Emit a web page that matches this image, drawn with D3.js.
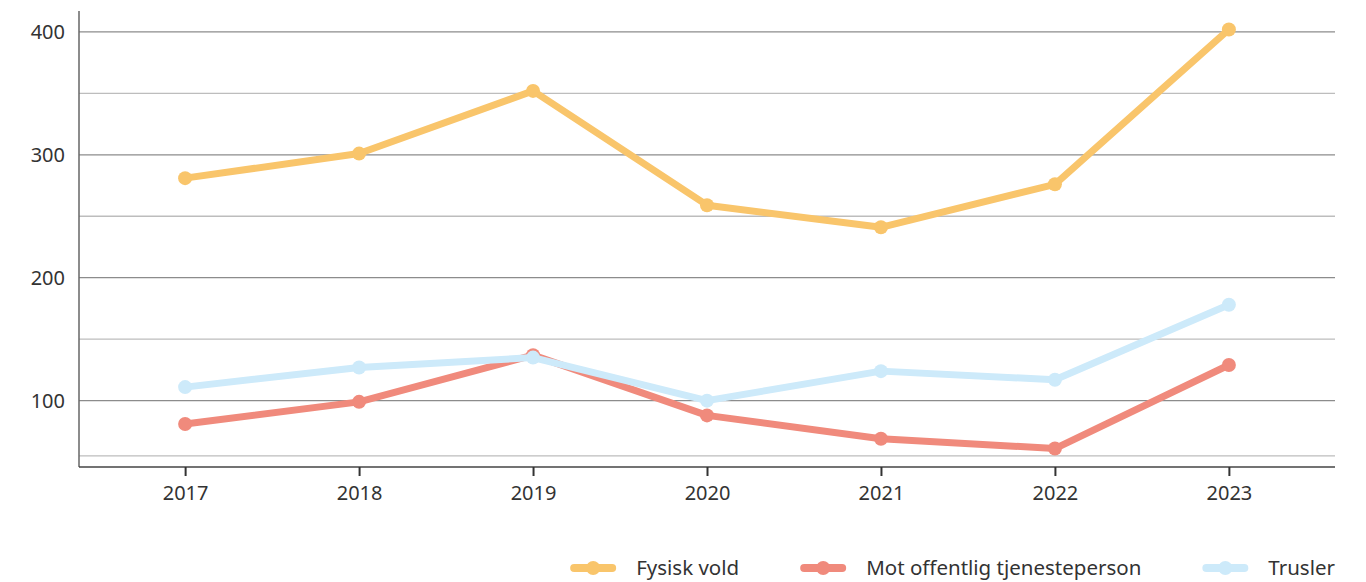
<!DOCTYPE html>
<html>
<head>
<meta charset="utf-8">
<script src="https://cdn.jsdelivr.net/npm/d3@7"></script>
<style>
  body { margin: 0; background: #fff; }
  svg { display: block; font-family: "Noto Sans", sans-serif; }
</style>
</head>
<body>
<svg id="chart" width="1366" height="582"></svg>
<script>
const years = ["2017", "2018", "2019", "2020", "2021", "2022", "2023"];
const fysiskVold = [281, 301, 352, 259, 241, 276, 402];
const motTjenesteperson = [81, 99, 137, 88, 69, 61, 129];
const trusler = [111, 127, 135, 100, 124, 117, 178];

const seriesNames = ["Fysisk vold", "Mot offentlig tjenesteperson", "Trusler"];
const seriesColors = ["#f9c56b", "#f08a7c", "#cdeafa"];
const yTickLabels = [100, 200, 300, 400];
const gridValues = [55, 100, 150, 200, 250, 300, 350, 400];

const series = [fysiskVold, motTjenesteperson, trusler].map((vals, i) => ({
    name: seriesNames[i],
    color: seriesColors[i],
    values: vals.map((v, j) => ({ year: years[j], value: v }))
}));

const svg = d3.select("#chart");
const plotLeft = 79, plotRight = 1335, plotTop = 11, plotBottom = 467;

const x = d3.scalePoint().domain(years).range([plotLeft, plotRight]).padding(0.61);
const y = d3.scaleLinear().domain([46, 417]).range([plotBottom, plotTop]);

// grid
svg.append("g")
    .selectAll("line")
    .data(gridValues)
    .join("line")
    .attr("x1", plotLeft)
    .attr("x2", plotRight)
    .attr("y1", d => y(d))
    .attr("y2", d => y(d))
    .attr("stroke", d => yTickLabels.includes(d) ? "#8c8c8c" : "#bdbdbd")
    .attr("stroke-width", 1.3);

// y axis
const yAxis = svg.append("g")
    .attr("transform", `translate(${plotLeft},0)`)
    .call(d3.axisLeft(y).tickValues(yTickLabels).tickSize(0).tickPadding(14));
yAxis.select(".domain").attr("stroke", "#666").attr("stroke-width", 1.5)
    .attr("d", `M0,${plotTop}V${plotBottom}`);
yAxis.selectAll("text")
    .attr("font-size", 20)
    .attr("fill", "#333")
    .attr("font-family", "Noto Sans, sans-serif");

// x axis
const xAxis = svg.append("g")
    .attr("transform", `translate(0,${plotBottom})`)
    .call(d3.axisBottom(x).tickSize(9).tickPadding(10));
xAxis.select(".domain").attr("stroke", "#444").attr("stroke-width", 1.5)
    .attr("d", `M${plotLeft},0H${plotRight}`);
xAxis.selectAll(".tick line").attr("stroke", "#333").attr("stroke-width", 2);
xAxis.selectAll("text")
    .attr("font-size", 20)
    .attr("fill", "#333")
    .attr("font-family", "Noto Sans, sans-serif");

// lines
const line = d3.line()
    .x(d => x(d.year))
    .y(d => y(d.value));

const groups = svg.append("g")
    .selectAll("g")
    .data(series)
    .join("g");

groups.append("path")
    .attr("d", d => line(d.values))
    .attr("fill", "none")
    .attr("stroke", d => d.color)
    .attr("stroke-width", 7)
    .attr("stroke-linejoin", "round")
    .attr("stroke-linecap", "round");

groups.selectAll("circle")
    .data(d => d.values.map(v => ({ ...v, color: d.color })))
    .join("circle")
    .attr("cx", d => x(d.year))
    .attr("cy", d => y(d.value))
    .attr("r", 7)
    .attr("fill", d => d.color);

// legend
const legend = svg.append("g");
const items = legend.selectAll("g")
    .data(series)
    .join("g");

items.append("line")
    .attr("x1", 4).attr("x2", 42)
    .attr("y1", 0).attr("y2", 0)
    .attr("stroke", d => d.color)
    .attr("stroke-width", 8)
    .attr("stroke-linecap", "round");
items.append("circle")
    .attr("cx", 23).attr("cy", 0).attr("r", 7)
    .attr("fill", d => d.color);
items.append("text")
    .attr("x", 66)
    .attr("y", 7)
    .attr("font-size", 20.5)
    .attr("fill", "#333")
    .text(d => d.name);

let offsets = [], pos = 0;
items.each(function() {
    offsets.push(pos);
    const w = 66 + d3.select(this).select("text").node().getComputedTextLength();
    pos += w + 61;
});
const totalW = pos - 61;
items.attr("transform", (d, i) => `translate(${offsets[i]},0)`);
legend.attr("transform", `translate(${plotRight - totalW},568)`);
</script>
</body>
</html>
